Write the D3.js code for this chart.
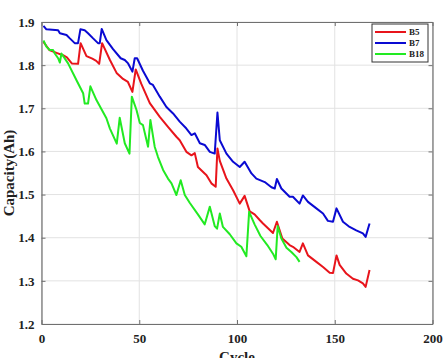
<!DOCTYPE html>
<html>
<head>
<meta charset="utf-8">
<script src="https://cdn.jsdelivr.net/npm/d3@7"></script>
<style>
  body { margin: 0; background: #fff; }
  svg text { font-family: "Liberation Serif", "Times New Roman", serif; font-weight: bold; fill: #222; }
</style>
</head>
<body>
<svg id="plot"></svg>
<script>
// capacity curves, [cycle, Ah]
const b5 = [[1,1.854],[4,1.835],[8,1.828],[11,1.823],[13,1.818],[15.5,1.804],[18.7,1.803],[20,1.851],[23,1.821],[26,1.815],[28,1.81],[29.5,1.803],[31,1.851],[35,1.812],[38.4,1.782],[41.7,1.768],[44.2,1.761],[46.5,1.738],[48.2,1.79],[51,1.757],[55.4,1.712],[60.5,1.68],[64.7,1.657],[69,1.634],[70.7,1.626],[74.1,1.599],[76.7,1.591],[78.4,1.596],[80,1.564],[84.4,1.545],[86.9,1.526],[89.1,1.518],[90,1.607],[91.2,1.578],[94.6,1.537],[98,1.51],[101.4,1.479],[103.9,1.497],[106.5,1.461],[109,1.454],[111.6,1.441],[113.3,1.433],[118.4,1.411],[120.4,1.437],[123.2,1.398],[126.9,1.383],[128.6,1.379],[132,1.367],[133.7,1.387],[136.3,1.359],[140.6,1.344],[144,1.332],[147.4,1.319],[149.1,1.318],[150.9,1.359],[152.5,1.337],[155.9,1.317],[159.3,1.305],[161.9,1.301],[164.4,1.294],[165.8,1.286],[167.8,1.325]];

const b7 = [[1,1.891],[2.5,1.883],[8.5,1.881],[9.4,1.874],[12.8,1.87],[14.5,1.862],[17,1.851],[18.7,1.851],[19.9,1.883],[22.1,1.881],[23.8,1.874],[26.4,1.862],[28.9,1.851],[29.8,1.851],[30.8,1.884],[33.2,1.858],[36.6,1.837],[40.5,1.816],[42.6,1.812],[44.3,1.804],[46.5,1.785],[47.7,1.816],[48.9,1.816],[51.9,1.787],[55.4,1.758],[57,1.754],[60.5,1.727],[63.9,1.703],[67.3,1.688],[70.7,1.669],[74.1,1.653],[76.7,1.638],[78.4,1.642],[81,1.619],[83.5,1.615],[86.1,1.599],[88.6,1.595],[90,1.69],[91.2,1.626],[94.6,1.595],[98,1.576],[101.4,1.564],[103.9,1.576],[107.4,1.549],[109.9,1.537],[114.2,1.529],[117.6,1.517],[119.3,1.514],[120.4,1.536],[122.7,1.514],[126.9,1.495],[128.6,1.495],[132,1.479],[133.7,1.498],[136.3,1.483],[140.6,1.468],[144,1.456],[146.5,1.439],[149.1,1.437],[150.9,1.468],[154.2,1.437],[157.6,1.425],[161,1.417],[164.4,1.41],[165.8,1.402],[167.8,1.433]];

const b18 = [[1,1.857],[2.5,1.843],[4.2,1.835],[5.9,1.835],[6.8,1.827],[8.5,1.816],[9.4,1.806],[10.2,1.827],[13.6,1.804],[17.9,1.765],[21.3,1.735],[22.1,1.711],[23.8,1.711],[25,1.751],[28.1,1.719],[33.2,1.677],[35,1.653],[38.5,1.618],[40,1.678],[42.6,1.619],[45,1.595],[46.2,1.727],[48.6,1.696],[50.3,1.666],[51.9,1.661],[54.5,1.611],[55.7,1.673],[57.9,1.611],[59.6,1.587],[62.2,1.557],[64.7,1.537],[66.5,1.526],[69,1.499],[71.2,1.533],[73.3,1.499],[75.8,1.481],[80,1.454],[83.5,1.431],[86.1,1.472],[88.6,1.427],[89.8,1.421],[91.2,1.456],[92.8,1.425],[96.3,1.408],[99.7,1.387],[102.2,1.379],[104.8,1.357],[106.2,1.46],[109,1.431],[112,1.404],[115.5,1.383],[118.4,1.363],[119.8,1.35],[120.8,1.427],[122.7,1.398],[125.3,1.377],[127.8,1.367],[130.4,1.355],[132,1.344]];

const seriesNames = ["B5", "B7", "B18"];
const seriesColors = ["#e8141b", "#0a0ad2", "#22ea22"];
const xTicks = [0, 50, 100, 150, 200];
const yTicks = [1.2, 1.3, 1.4, 1.5, 1.6, 1.7, 1.8, 1.9];

const margin = {top: 22, right: 11.5, bottom: 34, left: 41.5};
const W = 444, H = 358;
const width = W - margin.left - margin.right;
const height = H - margin.top - margin.bottom;

const svg = d3.select("#plot").attr("width", W).attr("height", H);
const g = svg.append("g").attr("transform", "translate(" + margin.left + "," + margin.top + ")");

const x = d3.scaleLinear().domain([0, 200]).range([0, width]);
const y = d3.scaleLinear().domain([1.2, 1.9]).range([height, 0]);

// grid
g.selectAll("line.gx").data(xTicks).enter().append("line")
  .attr("x1", d => x(d)).attr("x2", d => x(d))
  .attr("y1", 0).attr("y2", height)
  .attr("stroke", "#e2e2e2").attr("stroke-width", 1);
g.selectAll("line.gy").data(yTicks).enter().append("line")
  .attr("y1", d => y(d)).attr("y2", d => y(d))
  .attr("x1", 0).attr("x2", width)
  .attr("stroke", "#e2e2e2").attr("stroke-width", 1);

// lines
const line = d3.line().x(d => x(d[0])).y(d => y(d[1]));
[b5, b7, b18].forEach((s, i) => {
  g.append("path").datum(s)
    .attr("fill", "none")
    .attr("stroke", seriesColors[i])
    .attr("stroke-width", 2)
    .attr("stroke-linejoin", "round")
    .attr("d", line);
});

// axes, ticks inward like matlab
const axColor = "#707070";
function styleAxis(sel, showText) {
  sel.select(".domain").attr("stroke", axColor).attr("stroke-width", 1.2);
  sel.selectAll(".tick line").attr("stroke", axColor);
  sel.selectAll(".tick text").attr("font-size", 13).style("fill", "#222");
  if (!showText) sel.selectAll(".tick text").remove();
}
g.append("g").attr("transform", "translate(0," + height + ")")
  .call(d3.axisBottom(x).tickValues(xTicks).tickSizeInner(-4).tickSizeOuter(0).tickPadding(10).tickFormat(d3.format("d")))
  .call(s => styleAxis(s, true));
g.append("g")
  .call(d3.axisLeft(y).tickValues(yTicks).tickSizeInner(-4).tickSizeOuter(0).tickPadding(7).tickFormat(d3.format(".1f")))
  .call(s => styleAxis(s, true));
g.append("g")
  .call(d3.axisTop(x).tickValues(xTicks).tickSizeInner(-4).tickSizeOuter(0))
  .call(s => styleAxis(s, false));
g.append("g").attr("transform", "translate(" + width + ",0)")
  .call(d3.axisRight(y).tickValues(yTicks).tickSizeInner(-4).tickSizeOuter(0))
  .call(s => styleAxis(s, false));

// labels (x label runs off the bottom edge, as in the source image)
svg.append("text")
  .attr("x", margin.left + width / 2).attr("y", H + 4)
  .attr("text-anchor", "middle").attr("font-size", 15)
  .text("Cycle");
svg.append("text")
  .attr("transform", "translate(14," + (margin.top + height / 2) + ") rotate(-90)")
  .attr("text-anchor", "middle").attr("font-size", 15)
  .text("Capacity(Ah)");

// legend
const leg = g.append("g").attr("transform", "translate(" + (width - 60.5) + ",2)");
leg.append("rect").attr("width", 56).attr("height", 38)
  .attr("fill", "#fff").attr("stroke", "#333").attr("stroke-width", 1);
seriesNames.forEach((n, i) => {
  const yy = 8 + i * 11;
  leg.append("line").attr("x1", 3).attr("x2", 34).attr("y1", yy).attr("y2", yy)
    .attr("stroke", seriesColors[i]).attr("stroke-width", 2);
  leg.append("text").attr("x", 37).attr("y", yy + 3).attr("font-size", 9).text(n);
});
</script>
</body>
</html>
